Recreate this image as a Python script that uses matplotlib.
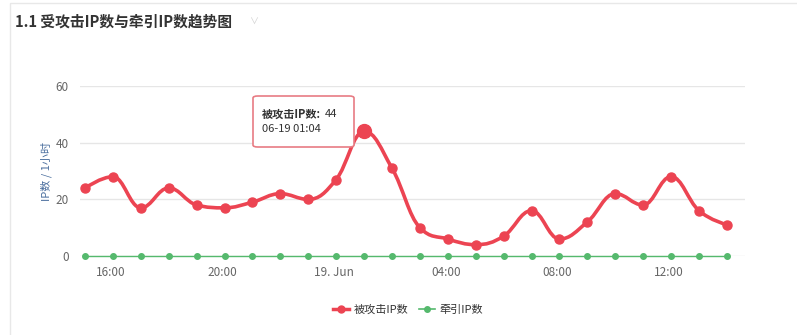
"""
Attacked IP / diverted IP trend chart (hourly), Highcharts-like look
"""
import matplotlib
matplotlib.use('Agg')
import matplotlib.pyplot as plt
import matplotlib.dates as mdates
from matplotlib.path import Path
from matplotlib.patches import PathPatch, FancyBboxPatch, Rectangle
from matplotlib.lines import Line2D
import numpy as np
import pandas as pd

plt.rcParams['font.family'] = ['Noto Sans CJK SC', 'DejaVu Sans']

# ============================================================================
# DATA
# ============================================================================
TITLE = '1.1 受攻击IP数与牵引IP数趋势图'
Y_LABEL = 'IP数 / 1小时'
SERIES_ATTACKED = '被攻击IP数'
SERIES_DIVERTED = '牵引IP数'

times = pd.date_range('2019-06-18 15:04', periods=24, freq='h')
attacked = [24, 28, 17, 24, 18, 17, 19, 22, 20, 27, 44, 31,
            10, 6, 4, 7, 16, 6, 12, 22, 18, 28, 16, 11]
diverted = [0] * 24

tick_times = ['2019-06-18 16:00', '2019-06-18 20:00', '2019-06-19 00:00',
              '2019-06-19 04:00', '2019-06-19 08:00', '2019-06-19 12:00']
tick_labels = ['16:00', '20:00', '19. Jun', '04:00', '08:00', '12:00']
y_ticks = [0, 20, 40, 60]

TOOLTIP_INDEX = 10  # hovered point

RED = '#ec4452'
GREEN = '#55b96d'
W, H = 797, 335


def spline_path(xs, ys, smoothing=1.5):
    """Bezier path through the points, same control-point rule as Highcharts spline."""
    n = len(xs)
    lc = [(xs[i], ys[i]) for i in range(n)]
    rc = [(xs[i], ys[i]) for i in range(n)]
    d = smoothing + 1
    for i in range(1, n - 1):
        px, py = xs[i], ys[i]
        lx, ly = xs[i - 1], ys[i - 1]
        nx, ny = xs[i + 1], ys[i + 1]
        lcx = (smoothing * px + lx) / d
        lcy = (smoothing * py + ly) / d
        rcx = (smoothing * px + nx) / d
        rcy = (smoothing * py + ny) / d
        if rcx != lcx:
            corr = (rcy - lcy) * (rcx - px) / (rcx - lcx) + py - rcy
            lcy += corr
            rcy += corr
        if lcy > ly and lcy > py:
            lcy = max(ly, py)
            rcy = 2 * py - lcy
        elif lcy < ly and lcy < py:
            lcy = min(ly, py)
            rcy = 2 * py - lcy
        if rcy > ny and rcy > py:
            rcy = max(ny, py)
            lcy = 2 * py - rcy
        elif rcy < ny and rcy < py:
            rcy = min(ny, py)
            lcy = 2 * py - rcy
        lc[i] = (lcx, lcy)
        rc[i] = (rcx, rcy)
    verts = [(xs[0], ys[0])]
    codes = [Path.MOVETO]
    for i in range(1, n):
        verts += [rc[i - 1], lc[i], (xs[i], ys[i])]
        codes += [Path.CURVE4] * 3
    return Path(verts, codes)


def main():
    fig = plt.figure(figsize=(W / 100, H / 100), dpi=100)
    fig.patch.set_facecolor('white')

    # card border
    fig.patches.append(Rectangle((10 / W, -0.1), 1.2, 1 - 3 / H + 0.1,
                                 transform=fig.transFigure, fill=False,
                                 edgecolor='#e8e8e8', lw=1))

    left, right = 80 / W, 745 / W
    bottom, top = (H - 256) / H, (H - 86) / H
    ax = fig.add_axes([left, bottom, right - left, top - bottom])

    x = mdates.date2num(times)
    hour = 1 / 24
    ax.set_xlim(x[0] - 0.18 * hour, x[-1] + 0.65 * hour)
    ax.set_ylim(0, 60)

    for s in ax.spines.values():
        s.set_visible(False)
    ax.set_yticks(y_ticks)
    ax.grid(axis='y', color='#e6e6e6', lw=1)
    ax.set_axisbelow(True)
    ax.set_xticks(mdates.date2num(pd.to_datetime(tick_times)))
    ax.set_xticklabels(tick_labels)
    ax.tick_params(length=0, labelsize=8.5, labelcolor='#666666')
    ax.tick_params(axis='x', pad=7)
    ax.tick_params(axis='y', pad=8)
    ax.set_ylabel(Y_LABEL, fontsize=8, color='#4a6e9e')
    ax.yaxis.set_label_coords(-28 / 665, 0.5)

    # diverted series (flat, green)
    ax.plot(x, diverted, color=GREEN, lw=1, marker='o', ms=4,
            clip_on=False, zorder=3)

    # attacked series (spline, red)
    path = spline_path(list(x), list(attacked))
    ax.add_patch(PathPatch(path, facecolor='none', edgecolor=RED, lw=2.6,
                           zorder=4, capstyle='round', joinstyle='round'))
    ax.plot(x, attacked, ls='none', marker='o', ms=6.5, color=RED, zorder=5)
    ax.plot(x[TOOLTIP_INDEX], attacked[TOOLTIP_INDEX], marker='o', ms=10,
            color=RED, zorder=6)

    # tooltip
    bx0, by0, bx1, by1 = 253, 96, 354, 147
    fig.patches.append(FancyBboxPatch((bx0 / W, 1 - by1 / H),
                                      (bx1 - bx0) / W, (by1 - by0) / H,
                                      boxstyle='round,pad=0,rounding_size=0.006',
                                      transform=fig.transFigure,
                                      facecolor='white', edgecolor='#e87c84',
                                      lw=1.2, zorder=10))
    t1 = fig.text(262 / W, 1 - 114 / H, SERIES_ATTACKED + ':', fontsize=8,
                  fontweight='bold', color='#333333', va='center', zorder=11)
    fig.canvas.draw()
    bb = t1.get_window_extent()
    fig.text((bb.x1 + 4) / W, 1 - 114 / H, str(attacked[TOOLTIP_INDEX]),
             fontsize=8, color='#333333', va='center', zorder=11)
    fig.text(262 / W, 1 - 129 / H,
             times[TOOLTIP_INDEX].strftime('%m-%d %H:%M'),
             fontsize=8, color='#333333', va='center', zorder=11)

    # title
    fig.text(15 / W, 1 - 22 / H, TITLE, fontsize=10.6, fontweight='bold',
             color='#333333', va='center')
    fig.text(250 / W, 1 - 22 / H, '∨', fontsize=6.5, color='#d0d0d0',
             va='center')

    # legend
    handles = [Line2D([], [], color=RED, lw=2.5, marker='o', ms=5),
               Line2D([], [], color=GREEN, lw=1.2, marker='o', ms=4)]
    fig.legend(handles, [SERIES_ATTACKED, SERIES_DIVERTED], ncol=2,
               loc='center', bbox_to_anchor=(408 / W, 1 - 310 / H),
               frameon=False, fontsize=8, labelcolor='#333333',
               handlelength=1.4, handletextpad=0.4, columnspacing=1.0)

    fig.savefig('out.png', dpi=100)


if __name__ == '__main__':
    main()
